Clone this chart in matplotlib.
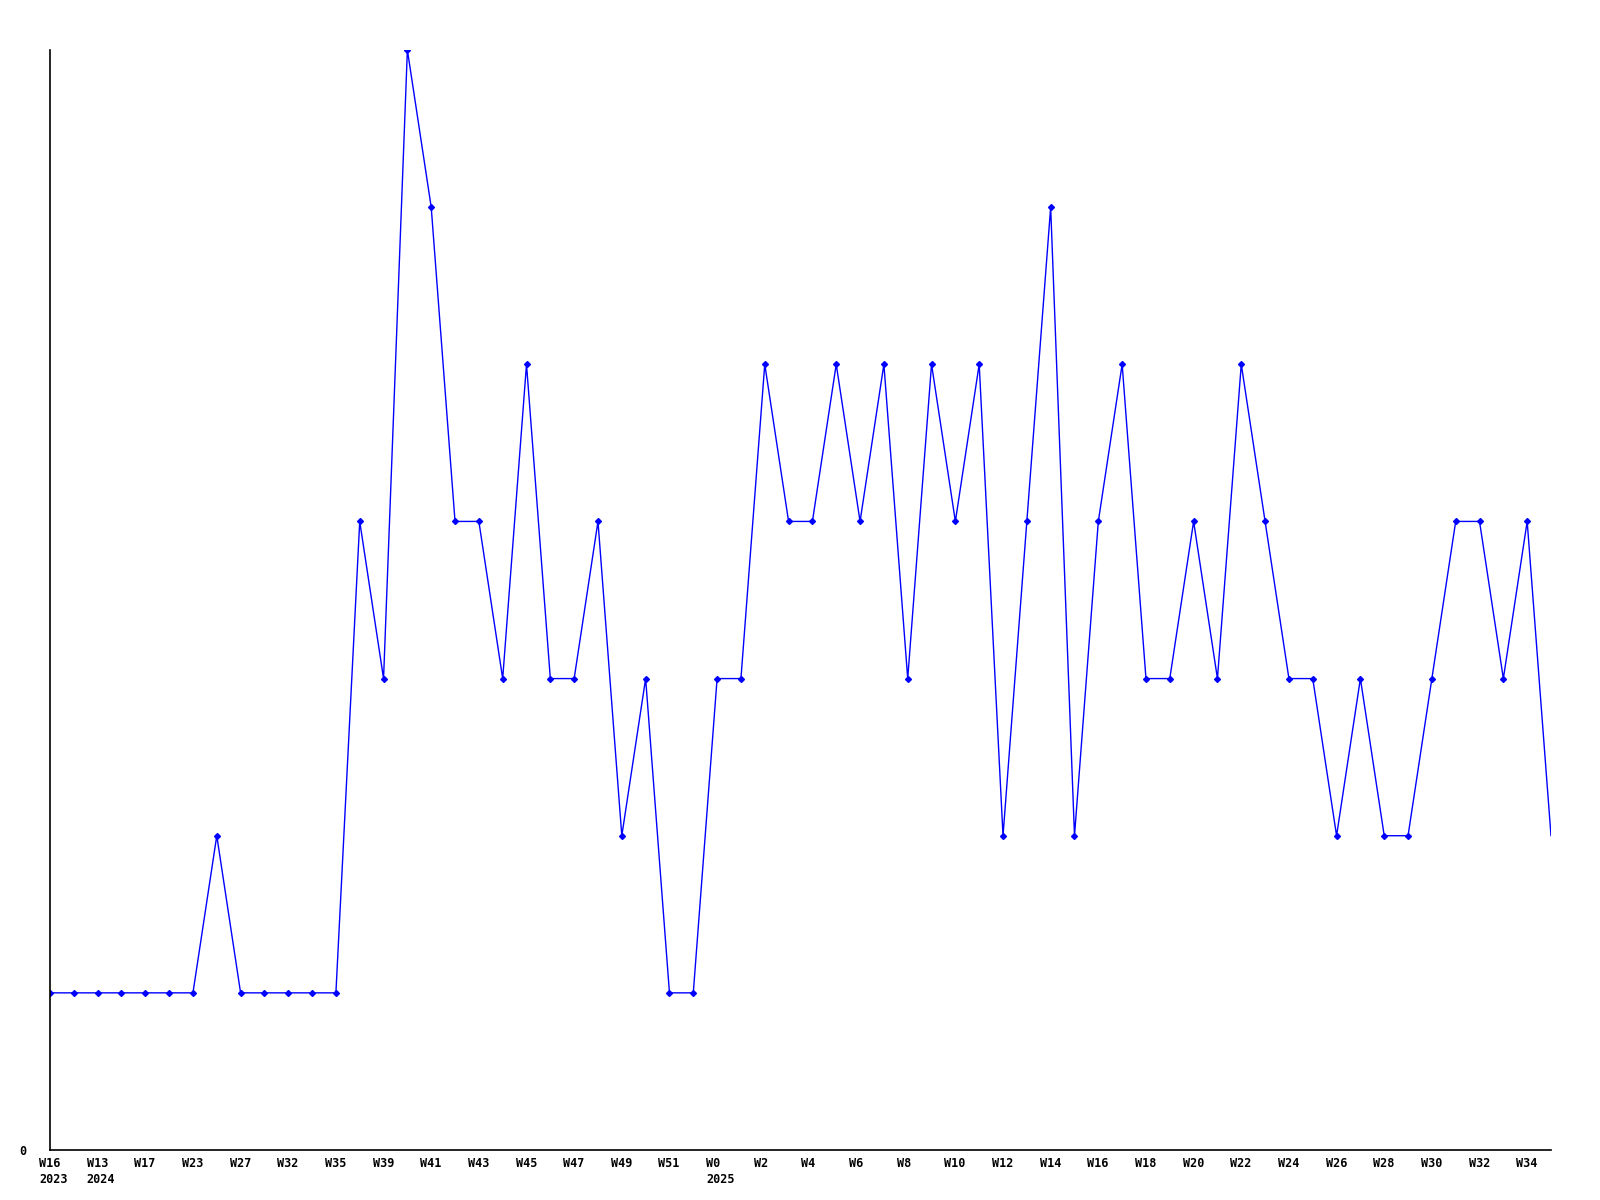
import matplotlib
matplotlib.use("Agg")
import matplotlib.pyplot as plt
import matplotlib.transforms as mtransforms

# weekly values, one per point
values = [1, 1, 1, 1, 1, 1, 1, 2, 1, 1, 1, 1, 1, 4, 3, 7, 6, 4, 4, 3,
          5, 3, 3, 4, 2, 3, 1, 1, 3, 3, 5, 4, 4, 5, 4, 5, 3, 5, 4, 5,
          2, 4, 6, 2, 4, 5, 3, 3, 4, 3, 5, 4, 3, 3, 2, 3, 2, 2, 3, 4,
          4, 3, 4, 2]

# labels on every other point
week_labels = ["W16\n2023", "W13\n2024", "W17", "W23", "W27", "W32", "W35", "W39",
               "W41", "W43", "W45", "W47", "W49", "W51", "W0\n2025", "W2",
               "W4", "W6", "W8", "W10", "W12", "W14", "W16", "W18",
               "W20", "W22", "W24", "W26", "W28", "W30", "W32", "W34"]

fig = plt.figure(figsize=(16, 12), dpi=100)
ax = fig.add_axes([50 / 1600, 1 - 1150 / 1200, 1501 / 1600, 1100 / 1200])

x = list(range(len(values)))
ax.plot(x, values, color="#0000ff", lw=1.0)
# last point has no marker
ax.plot(x[:-1], values[:-1], ls="none", marker="D", ms=3, color="#0000ff")

ax.set_xlim(0, len(values) - 1)
ax.set_ylim(0, 7)

for s in ["top", "right"]:
    ax.spines[s].set_visible(False)
for s in ["left", "bottom"]:
    ax.spines[s].set_linewidth(1.2)
    ax.spines[s].set_color("black")

font = dict(family="DejaVu Sans Mono", weight="bold", size=8.5)

ax.set_yticks([0])
ax.set_yticklabels(["0"], **font)
ax.tick_params(axis="y", length=0, pad=17)

ax.set_xticks(x[::2])
ax.set_xticklabels(week_labels, ha="left", va="top", linespacing=1.3, **font)
ax.tick_params(axis="x", length=0, pad=5)
shift = mtransforms.ScaledTranslation(-11 / 100, 0, fig.dpi_scale_trans)
for lab in ax.get_xticklabels():
    lab.set_transform(lab.get_transform() + shift)

fig.savefig("out.png", dpi=100)
